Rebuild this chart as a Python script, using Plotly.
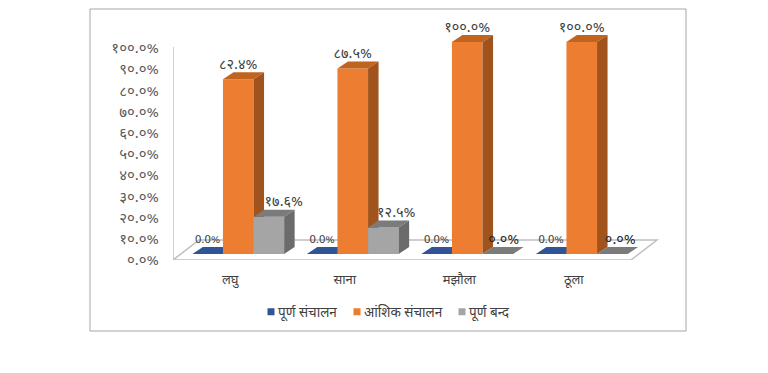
import plotly.graph_objects as go

categories = ["लघु", "साना", "मझौला", "ठूला"]
series_names = ["पूर्ण संचालन", "आंशिक संचालन", "पूर्ण बन्द"]
full_operation = [0.0, 0.0, 0.0, 0.0]
partial_operation = [82.4, 87.5, 100.0, 100.0]
full_closed = [17.6, 12.5, 0.0, 0.0]
labels_blue = ["0.0%", "0.0%", "0.0%", "0.0%"]
labels_orange = ["८२.४%", "८७.५%", "१००.०%", "१००.०%"]
labels_gray = ["१७.६%", "१२.५%", "०.०%", "०.०%"]
tick_values = [0, 10, 20, 30, 40, 50, 60, 70, 80, 90, 100]
tick_labels = ["०.०%", "१०.०%", "२०.०%", "३०.०%", "४०.०%", "५०.०%", "६०.०%", "७०.०%", "८०.०%", "९०.०%", "१००.०%"]

PAGE = 8  # the page body adds this margin round the figure
W, H = 768 - PAGE, 373 - PAGE
L, R, T, B = 173 - PAGE, 660 - PAGE, 27 - PAGE, 260 - PAGE
PX_X = 114.5
PX_Y = 2.12
XR = [-0.5, -0.5 + (R - L) / PX_X]
YR = [0, (B - T) / PX_Y]

bar_w = 30.6 / PX_X
shift = 8 / PX_X
base = 6 / PX_Y
dx = 10.5 / PX_X
dy = 7 / PX_Y
floor_dx = 26 / PX_X
floor_dy = 20 / PX_Y
lab_dy = 7 / PX_Y
FONT = "Noto Sans Devanagari, Noto Sans, Lohit Devanagari, sans-serif"
TXT = "#595959"
LAB = "#404040"

fig = go.Figure()


def add_series(idx, vals, front, top, side, offset, axis):
    xa, ya = axis
    xs = [i + shift + offset * bar_w for i in range(4)]
    fig.add_trace(go.Bar(x=xs, y=vals, base=base, width=bar_w, marker=dict(color=front, line=dict(width=0)),
                         showlegend=False, xaxis=xa, yaxis=ya, hoverinfo="skip"))
    fig.add_trace(go.Scatter(x=[None], y=[None], name=series_names[idx], mode="markers",
                             marker=dict(symbol="square", size=7, color=front), xaxis=xa, yaxis=ya))
    for x, v in zip(xs, vals):
        x0, x1 = x - bar_w / 2, x + bar_w / 2
        y1 = base + v
        fig.add_trace(go.Scatter(x=[x0, x1, x1 + dx, x0 + dx, x0], y=[y1, y1, y1 + dy, y1 + dy, y1],
                                 fill="toself", fillcolor=top, mode="none", showlegend=False,
                                 xaxis=xa, yaxis=ya, hoverinfo="skip"))
        if v > 0:
            fig.add_trace(go.Scatter(x=[x1, x1 + dx, x1 + dx, x1, x1], y=[base, base + dy, y1 + dy, y1, base],
                                     fill="toself", fillcolor=side, mode="none", showlegend=False,
                                     xaxis=xa, yaxis=ya, hoverinfo="skip"))
    return xs


xs_b = add_series(0, full_operation, "#2F5597", "#2F5597", "#203864", -1, ("x", "y"))
xs_o = add_series(1, partial_operation, "#ED7D31", "#C0651F", "#A0531C", 0, ("x2", "y2"))
xs_g = add_series(2, full_closed, "#A5A5A5", "#7B7B7B", "#6B6B6B", 1, ("x3", "y3"))

nudge_gray = [15, 13, 6, 8]
fig.add_trace(go.Scatter(x=xs_b, y=[base + dy + v + 7 / PX_Y for v in full_operation], text=labels_blue,
                         mode="text", textfont=dict(size=11.5, color=LAB, family=FONT),
                         showlegend=False, xaxis="x3", yaxis="y3", cliponaxis=False, hoverinfo="skip"))
fig.add_trace(go.Scatter(x=xs_o, y=[base + dy + v + lab_dy for v in partial_operation], text=labels_orange,
                         mode="text", textfont=dict(size=14.5, color=LAB, family=FONT),
                         showlegend=False, xaxis="x3", yaxis="y3", cliponaxis=False, hoverinfo="skip"))
fig.add_trace(go.Scatter(x=[x + n / PX_X for x, n in zip(xs_g, nudge_gray)],
                         y=[base + dy + v + lab_dy for v in full_closed], text=labels_gray,
                         mode="text", textfont=dict(size=14.5, color=[LAB, LAB, "#262626", "#262626"], family=FONT),
                         showlegend=False, xaxis="x3", yaxis="y3", cliponaxis=False, hoverinfo="skip"))

line = dict(color="#BFBFBF", width=1.5)
shapes = [
    dict(type="path", xref="x", yref="y", layer="below", line=line,
         path=f"M -0.5 0 L 3.5 0 L {3.5 + floor_dx} {floor_dy} L {-0.5 + floor_dx} {floor_dy} Z"),
    dict(type="line", xref="x", yref="y", layer="below", line=line, x0=-0.5, x1=-0.5, y0=0, y1=100.5),
    dict(type="rect", xref="paper", yref="paper", layer="below", line=dict(color="#A6A6A6", width=1),
         x0=(90 - PAGE - L) / (R - L), x1=(686 - PAGE - L) / (R - L),
         y0=(B - (331 - PAGE)) / (B - T), y1=(B - (9 - PAGE)) / (B - T)),
]

ax_hidden = dict(range=XR, visible=False, fixedrange=True)
ay_hidden = dict(range=YR, visible=False, fixedrange=True)
fig.update_layout(
    width=W, height=H, autosize=False,
    margin=dict(l=L, r=W - R, t=T, b=H - B, pad=0),
    paper_bgcolor="white", plot_bgcolor="rgba(0,0,0,0)",
    barmode="overlay", shapes=shapes,
    font=dict(family=FONT, color=TXT),
    xaxis=dict(range=XR, tickmode="array", tickvals=[0, 1, 2, 3], ticktext=categories, showgrid=False,
               zeroline=False, showline=False, ticks="", ticklabelstandoff=10,
               tickfont=dict(size=13, color=LAB, family=FONT)),
    yaxis=dict(range=YR, tickmode="array", tickvals=tick_values, ticktext=tick_labels, showgrid=False,
               zeroline=False, showline=False, ticks="", ticklabelstandoff=13,
               tickfont=dict(size=15, color=TXT, family=FONT)),
    xaxis2=dict(overlaying="x", **ax_hidden), yaxis2=dict(overlaying="y", **ay_hidden),
    xaxis3=dict(overlaying="x", **ax_hidden), yaxis3=dict(overlaying="y", **ay_hidden),
    legend=dict(orientation="h", x=0.16, xanchor="left", y=-0.223, yanchor="middle",
                font=dict(size=13.5, color=LAB, family=FONT),
                itemclick=False, itemdoubleclick=False, bgcolor="rgba(0,0,0,0)"),
)

# Plotly keeps a fixed 30px swatch slot in legends; place the entries tightly as in the reference.
legend_text_left = [278, 364, 469]
post = """
var targets = %s;
var gd = document.getElementById('{plot_id}');
gd.querySelectorAll('.legend .traces').forEach(function (g, i) {
  var sym = g.querySelector('.legendsymbols');
  if (sym) sym.setAttribute('transform', 'translate(13,0)');
  var txt = g.querySelector('.legendtext');
  var m = /translate\\(([-\\d.]+)[, ]+([-\\d.]+)\\)/.exec(g.getAttribute('transform'));
  var d = targets[i] - txt.getBoundingClientRect().left;
  g.setAttribute('transform', 'translate(' + (parseFloat(m[1]) + d) + ',' + m[2] + ')');
});
""" % legend_text_left
fig.write_html("out.html", config=dict(displayModeBar=False), post_script=post)
